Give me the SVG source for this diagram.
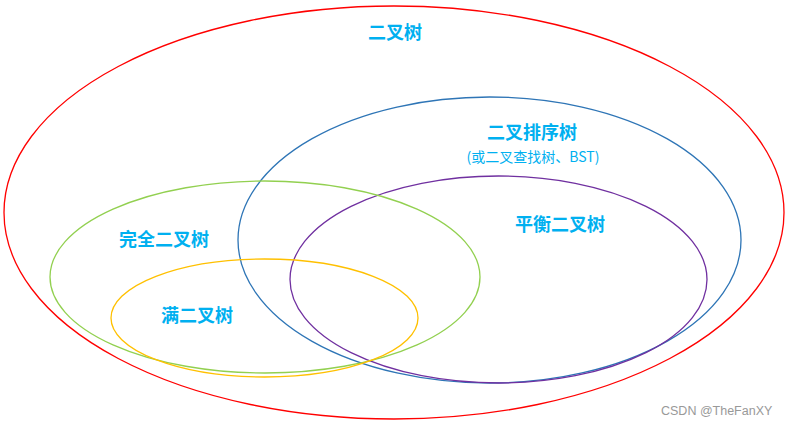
<svg xmlns="http://www.w3.org/2000/svg" width="788" height="426" viewBox="0 0 788 426">
<style>
.e{fill:none;stroke-width:1.3}
.t{font-family:"Noto Sans CJK SC","Noto Sans",sans-serif;font-weight:bold;font-size:18px;fill:#00b0f0;text-anchor:middle}
.s{font-family:"Noto Sans CJK SC","Noto Sans",sans-serif;font-size:14px;fill:#00b0f0;text-anchor:middle}
.w{font-family:"Liberation Sans",Arial,sans-serif;font-size:12.5px;fill:#999999}
</style>
<rect width="788" height="426" fill="#ffffff"/>
<g id="binary-tree"><ellipse class="e" cx="394" cy="212.5" rx="390" ry="206.5" stroke="#ff0000"/><text class="t" x="395" y="39">二叉树</text></g>
<g id="bst"><ellipse class="e" cx="489.5" cy="240" rx="251.5" ry="143" stroke="#2e75b6"/><text class="t" x="532" y="139">二叉排序树</text><text class="s" x="533" y="162">(或二叉查找树、BST)</text></g>
<g id="balanced"><ellipse class="e" cx="498.5" cy="279.5" rx="208.5" ry="103.5" stroke="#7030a0"/><text class="t" x="560" y="231">平衡二叉树</text></g>
<g id="complete"><ellipse class="e" cx="265" cy="277" rx="215" ry="96" stroke="#92d050"/><text class="t" x="164" y="246">完全二叉树</text></g>
<g id="full"><ellipse class="e" cx="264.5" cy="318" rx="153.5" ry="59" stroke="#ffc000"/><text class="t" x="197" y="322">满二叉树</text></g>
<g id="connectors"></g>
<text class="w" x="661" y="415">CSDN @TheFanXY</text>
</svg>
